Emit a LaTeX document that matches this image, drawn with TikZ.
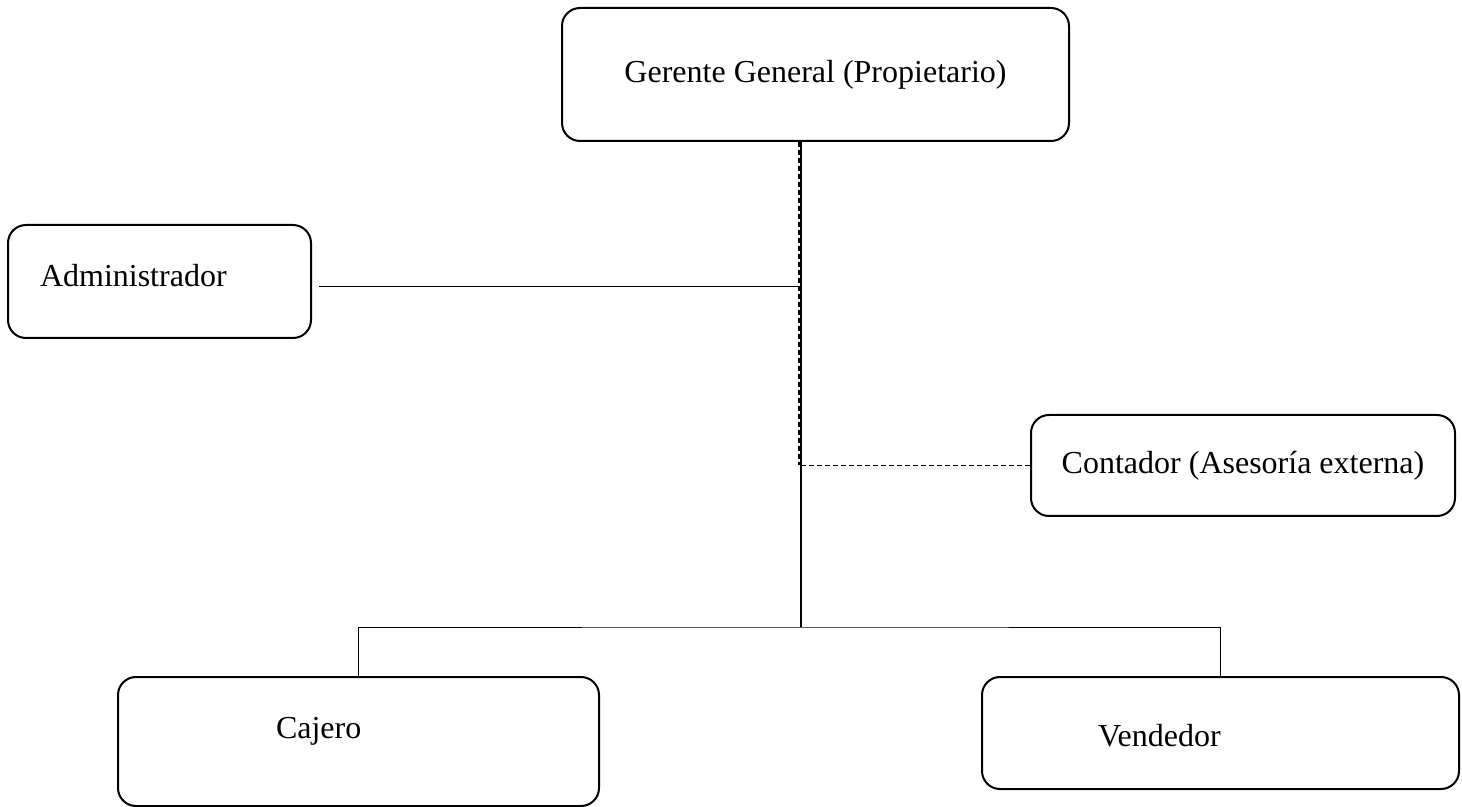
\documentclass[tikz,border=0pt]{standalone}
\usepackage{fontspec}
\setmainfont{Liberation Serif}
\usepackage{tikz}
\usetikzlibrary{shapes,arrows,positioning,calc}

\tikzset{
    orgbox/.style={rectangle, draw, line width=1pt, rounded corners=9pt,
        font=\fontsize{16}{19}\selectfont},
    link/.style={line width=0.5pt},
    dotlink/.style={line width=0.6pt, dash pattern=on 2.5pt off 1.5pt}
}

\begin{document}
\begin{tikzpicture}[x=0.5pt, y=-0.5pt]
    \useasboundingbox (0,0) rectangle (1462,807);

    % Top manager
    \node[orgbox, minimum width=253.5pt, minimum height=66.5pt] (gerente) at (815.5,74.5) {Gerente General (Propietario)};

    % Staff positions
    \node[orgbox, minimum width=151.5pt, minimum height=56.5pt, text width=119.5pt, inner xsep=16pt, align=left, text depth=6pt] (admin) at (159.5,281.5) {Administrador};
    \node[orgbox, minimum width=212pt, minimum height=50.5pt] (contador) at (1243,465.5) {Contador (Asesoría externa)};

    % Operational staff
    \node[orgbox, minimum width=240.5pt, minimum height=64.5pt, text width=82.5pt, inner xsep=79pt, align=left, text depth=14pt] (cajero) at (358.5,741.5) {Cajero};
    \node[orgbox, minimum width=238.5pt, minimum height=56pt, text width=122.5pt, inner xsep=58pt, align=left, text height=13.5pt] (vendedor) at (1220.5,733) {Vendedor};

    % Junctions of the main line
    \coordinate (hub) at (801,627);
    \coordinate (adminlink) at ([xshift=3.5pt,yshift=-2.5pt]admin.east);

    % Lines
    \draw[link, line width=0.8pt] (hub |- gerente.south) -- (hub);
    \draw[dotlink] ([xshift=-1pt]hub |- gerente.south) -- ([xshift=-1pt]hub |- contador.west);
    \draw[link] (adminlink) -- (adminlink -| hub);
    \draw[dotlink] (contador.west) -- (contador.west -| hub);
    \draw[link] (cajero.north) |- (hub) -| (vendedor.north);
\end{tikzpicture}
\end{document}
